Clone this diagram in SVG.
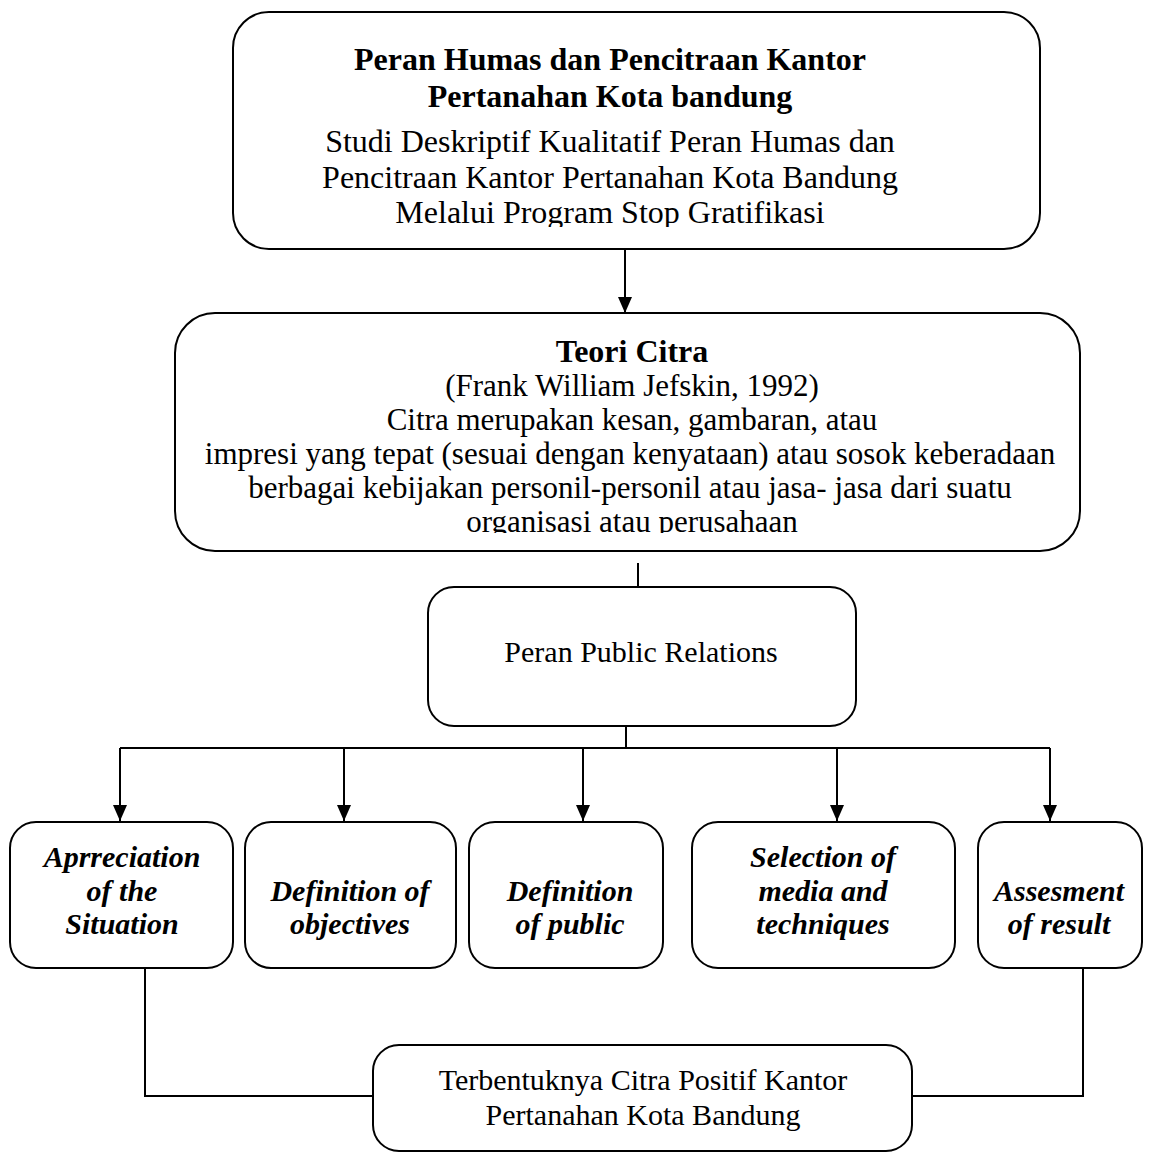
<svg xmlns="http://www.w3.org/2000/svg" width="1153" height="1153" viewBox="0 0 1153 1153">
<style>
.box{fill:#fff;stroke:#000;stroke-width:2}
.ln{fill:none;stroke:#000;stroke-width:2}
text{font-family:"Liberation Serif","Times New Roman",serif;fill:#000;text-anchor:middle}
.t32{font-size:32px}
.t31{font-size:31px}
.t30{font-size:30px}
.b{font-weight:bold}
.bi{font-weight:bold;font-style:italic;font-size:30px}
</style>
<defs>
<marker id="arr" viewBox="0 0 16 14" refX="16" refY="7" markerWidth="16" markerHeight="14" markerUnits="userSpaceOnUse" orient="auto">
<path d="M0,0 L16,7 L0,14 z" fill="#000"/>
</marker>
<clipPath id="c1"><rect x="233" y="12" width="807" height="215"/></clipPath>
<clipPath id="c2"><rect x="175" y="313" width="905" height="220"/></clipPath>
</defs>
<rect width="1153" height="1153" fill="#fff"/>
<g id="connectors">
<path class="ln" d="M625,249 V313" marker-end="url(#arr)"/>
<path class="ln" d="M638,563 V587"/>
<path class="ln" d="M626,726 V748"/>
<path class="ln" d="M120,748 H1050"/>
<path class="ln" d="M120,748 V821" marker-end="url(#arr)"/>
<path class="ln" d="M344,748 V821" marker-end="url(#arr)"/>
<path class="ln" d="M583,748 V821" marker-end="url(#arr)"/>
<path class="ln" d="M837,748 V821" marker-end="url(#arr)"/>
<path class="ln" d="M1050,748 V821" marker-end="url(#arr)"/>
<path class="ln" d="M145,968 V1096 H373"/>
<path class="ln" d="M1083,968 V1096 H912"/>
</g>
<g id="node-top">
<rect class="box" x="233" y="12" width="807" height="237" rx="36"/>
<g clip-path="url(#c1)">
<text class="t32 b" x="610" y="70">Peran Humas dan Pencitraan Kantor</text>
<text class="t32 b" x="610" y="107">Pertanahan Kota bandung</text>
<text class="t32" x="610" y="152">Studi Deskriptif Kualitatif Peran Humas dan</text>
<text class="t32" x="610" y="188">Pencitraan Kantor Pertanahan Kota Bandung</text>
<text class="t32" x="610" y="223">Melalui Program Stop Gratifikasi</text>
</g>
</g>
<g id="node-teori">
<rect class="box" x="175" y="313" width="905" height="238" rx="40"/>
<g clip-path="url(#c2)">
<text class="t32 b" x="632" y="362">Teori Citra</text>
<text class="t31" x="632" y="396">(Frank William Jefskin, 1992)</text>
<text class="t31" x="632" y="430">Citra merupakan kesan, gambaran, atau</text>
<text class="t31" x="630" y="464">impresi yang tepat (sesuai dengan kenyataan) atau sosok keberadaan</text>
<text class="t31" x="630" y="498">berbagai kebijakan personil-personil atau jasa- jasa dari suatu</text>
<text class="t31" x="632" y="532">organisasi atau perusahaan</text>
</g>
</g>
<g id="node-peran">
<rect class="box" x="428" y="587" width="428" height="139" rx="26"/>
<text class="t30" x="641" y="662">Peran Public Relations</text>
</g>
<g id="node-a1">
<rect class="box" x="10" y="822" width="223" height="146" rx="26"/>
<text class="bi" x="122" y="867">Aprreciation</text>
<text class="bi" x="122" y="901">of the</text>
<text class="bi" x="122" y="934">Situation</text>
</g>
<g id="node-a2">
<rect class="box" x="245" y="822" width="211" height="146" rx="26"/>
<text class="bi" x="350" y="901">Definition of</text>
<text class="bi" x="350" y="934">objectives</text>
</g>
<g id="node-a3">
<rect class="box" x="469" y="822" width="194" height="146" rx="26"/>
<text class="bi" x="570" y="901">Definition</text>
<text class="bi" x="570" y="934">of public</text>
</g>
<g id="node-a4">
<rect class="box" x="692" y="822" width="263" height="146" rx="26"/>
<text class="bi" x="823" y="867">Selection of</text>
<text class="bi" x="823" y="901">media and</text>
<text class="bi" x="823" y="934">techniques</text>
</g>
<g id="node-a5">
<rect class="box" x="978" y="822" width="164" height="146" rx="26"/>
<text class="bi" x="1059" y="901">Assesment</text>
<text class="bi" x="1059" y="934">of result</text>
</g>
<g id="node-final">
<rect class="box" x="373" y="1045" width="539" height="106" rx="26"/>
<text class="t30" x="643" y="1090">Terbentuknya Citra Positif Kantor</text>
<text class="t30" x="643" y="1125">Pertanahan Kota Bandung</text>
</g>
</svg>
